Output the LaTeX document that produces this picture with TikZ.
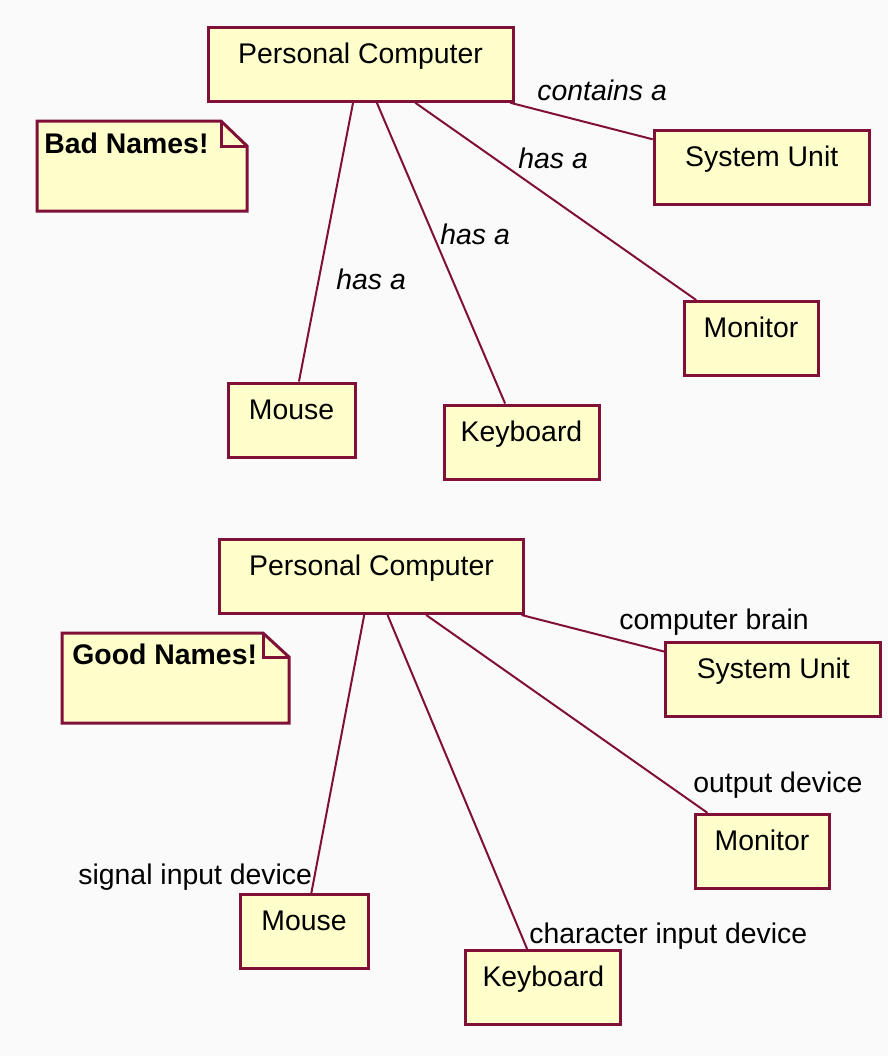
\documentclass[tikz,border=0pt]{standalone}
\usepackage{fontspec}
\setmainfont{Liberation Sans}
\definecolor{umlborder}{RGB}{128,16,56}
\definecolor{umlfill}{RGB}{255,255,204}
\definecolor{canvas}{RGB}{250,250,250}
\tikzstyle{classbox} = [rectangle, draw=umlborder, fill=umlfill, line width=1.5pt, minimum height=37pt, inner sep=0pt, text height=9pt, text depth=10pt, font=\fontsize{14.2}{17}\selectfont]
\tikzstyle{notebox} = [draw=umlborder, fill=umlfill, line width=1.5pt]
\tikzstyle{notetext} = [anchor=base west, inner sep=0pt, font=\fontsize{14.2}{17}\selectfont\bfseries]
\tikzstyle{assoc} = [draw=umlborder, line width=1pt]
\tikzstyle{role} = [anchor=base west, inner sep=0pt, font=\fontsize{14.2}{17}\selectfont]
\tikzstyle{badrole} = [role, font=\fontsize{14.2}{17}\selectfont\itshape]
\begin{document}
\begin{tikzpicture}[x=0.5pt, y=-0.5pt]

\fill[canvas] (0,0) rectangle (888,1056);
\useasboundingbox (0,0) rectangle (888,1056);

% bad names
\draw[notebox] (37,121) -- (221,121) -- (247,146) -- (247,211) -- (37,211) -- cycle;
\draw[notebox, fill=none] (221,121) -- (221,146) -- (247,146);
\node (badnote) [notetext] at (44,153) {Bad Names!};

\node (pc1) [classbox, minimum width=152.5pt] at (360.5,64.3) {Personal Computer};
\node (su1) [classbox, minimum width=107.5pt] at (761.7,167.2) {System Unit};
\node (mon1) [classbox, minimum width=67pt] at (751,338.5) {Monitor};
\node (mouse1) [classbox, minimum width=63.5pt] at (291.5,420) {Mouse};
\node (kb1) [classbox, minimum width=77.5pt] at (521.5,442) {Keyboard};

\draw [assoc] (pc1) -- (su1);
\draw [assoc] (pc1) -- (mon1);
\draw [assoc] (pc1) -- (kb1);
\draw [assoc] (pc1) -- (mouse1);

\node (r1) [badrole] at (537,100) {contains a};
\node (r2) [badrole] at (518,168) {has a};
\node (r3) [badrole] at (440,244) {has a};
\node (r4) [badrole] at (336,289) {has a};

% good names
\draw[notebox] (62,633) -- (263,633) -- (289,657) -- (289,723) -- (62,723) -- cycle;
\draw[notebox, fill=none] (263,633) -- (263,657) -- (289,657);
\node (goodnote) [notetext] at (72,664) {Good Names!};

\node (pc2) [classbox, minimum width=152pt] at (371.5,576.5) {Personal Computer};
\node (su2) [classbox, minimum width=107.5pt] at (773.3,679.5) {System Unit};
\node (mon2) [classbox, minimum width=67pt] at (762,851.3) {Monitor};
\node (mouse2) [classbox, minimum width=64pt] at (304,931.7) {Mouse};
\node (kb2) [classbox, minimum width=77.5pt] at (543.3,987.8) {Keyboard};

\draw [assoc] (pc2) -- (su2);
\draw [assoc] (pc2) -- (mon2);
\draw [assoc] (pc2) -- (kb2);
\draw [assoc] (pc2) -- (mouse2);

\node (s1) [role] at (619,629) {computer brain};
\node (s2) [role] at (693,792) {output device};
\node (s3) [role] at (529,943) {character input device};
\node (s4) [role] at (78,884) {signal input device};

\end{tikzpicture}
\end{document}
